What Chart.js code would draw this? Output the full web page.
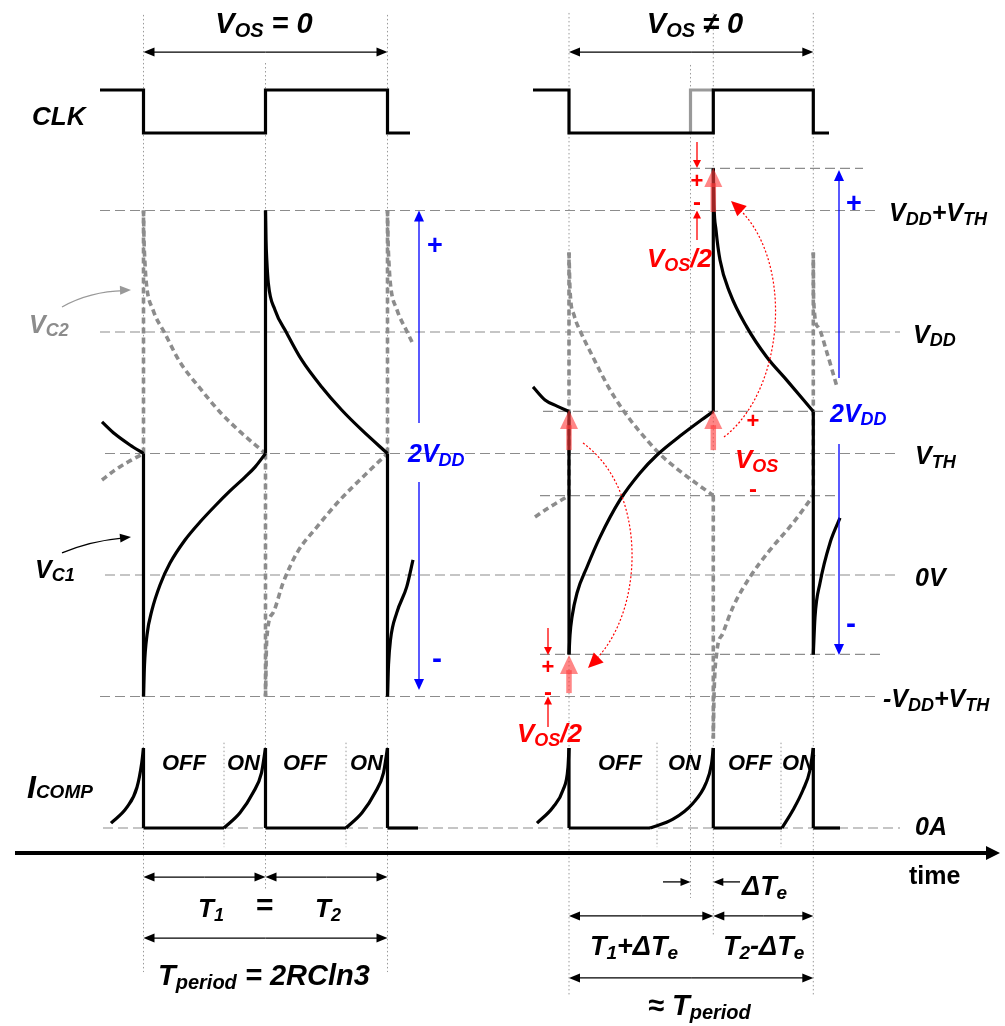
<!DOCTYPE html>
<html>
<head>
<meta charset="utf-8">
<script src="https://cdn.jsdelivr.net/npm/chart.js@4.4.1/dist/chart.umd.min.js"></script>
<style>
  html, body { margin: 0; padding: 0; background: #fff; }
  #wrap { width: 1005px; height: 1026px; }
</style>
</head>
<body>
<div id="wrap"><canvas id="diagram" width="1005" height="1026"></canvas></div>
<script>
// switching instants on the time axis (arbitrary time units)
const edgesLeft = [143.5, 265.5, 387.5];          // Vos = 0
const edgesRight = [569, 690.5, 713.3, 813.3];    // Vos != 0 (690.5 = ideal edge)

// CLK, 0 = low, 1 = high
const clkLeft = [[100, 1], [143.5, 1], [143.5, 0], [265.5, 0], [265.5, 1], [387.5, 1], [387.5, 0], [410, 0]];
const clkRight = [[533, 1], [569, 1], [569, 0], [713.3, 0], [713.3, 1], [813.3, 1], [813.3, 0], [829, 0]];
const clkIdeal = [[690.5, 0], [690.5, 1], [713.3, 1]];

// reference levels in units of VDD (VTH = VDD/2)
const levelLabels = ["V_{DD}+V_{TH}", "V_{DD}", "V_{TH}", "0V", "-V_{DD}+V_{TH}"];
const levelValues = [1.5, 1, 0.5, 0, -0.5];
const levelFrom = [100, 100, 105, 105, 100];
const levelTo = [880, 900, 900, 900, 880];
// levels shifted by Vos/2 (Vos != 0 case)
const offsetValues = [1.673, 0.673, 0.327, -0.327];
const offsetFrom = [690, 543, 540, 540];
const offsetTo = [863, 828, 835, 883];

// thin dotted time guides: [time, top, bottom] in VDD units
const guides = [
  [143.5, 2.305, -1.634], [265.5, 2.107, -1.296], [387.5, 2.305, -1.634],
  [569, 2.313, -1.728], [690.5, 2.099, -1.329], [713.3, 2.313, -1.481], [813.3, 2.313, -1.728],
  [224, -0.69, -1.12], [346, -0.69, -1.12], [657, -0.69, -1.12], [781, -0.69, -1.12]
];

// VC1 / VC2 (units of VDD), one array per continuous piece, jumps join the pieces
const vc1Left = [
  [[102, 0.630], [115, 0.580], [130, 0.535], [143.5, 0.5]],
  [[143.5, -0.5], [144.5, -0.370], [147, -0.247], [152, -0.144], [160, -0.041], [170, 0.049], [185, 0.144],
   [200, 0.218], [215, 0.284], [230, 0.346], [245, 0.403], [255, 0.444], [265.5, 0.5]],
  [[265.5, 1.5], [266, 1.38], [266.8, 1.296], [268.3, 1.202], [275, 1.091], [286.7, 0.996], [301.7, 0.885],
   [321.7, 0.774], [341.7, 0.679], [361.7, 0.597], [387.5, 0.5]],
  [[387.5, -0.5], [388.5, -0.370], [390.5, -0.267], [396.7, -0.156], [406.7, -0.049], [413, 0.062]]
];
const vc2Left = [
  [[102, 0.391], [115, 0.432], [128, 0.465], [143.5, 0.5]],
  [[143.5, 1.5], [144, 1.38], [144.8, 1.296], [146.3, 1.202], [153, 1.091], [164.7, 0.996], [179.7, 0.878],
   [199.7, 0.770], [219.7, 0.672], [240, 0.590], [265.5, 0.5]],
  [[265.5, -0.5], [266.7, -0.267], [273, -0.156], [283, -0.033], [297, 0.091], [317, 0.198], [340, 0.309],
   [367, 0.420], [387.5, 0.5]],
  [[387.5, 1.5], [388, 1.38], [388.8, 1.296], [390.3, 1.202], [397, 1.091], [406, 1.010], [413, 0.950]]
];
const vc1Right = [
  [[533, 0.774], [545, 0.720], [557, 0.695], [569, 0.673]],
  [[569, -0.327], [570, -0.247], [572, -0.173], [577, -0.074], [587, 0.033], [600, 0.156], [620, 0.309],
   [640, 0.420], [657, 0.494], [680, 0.572], [700, 0.634], [713.3, 0.673]],
  [[713.3, 1.673], [714, 1.523], [716, 1.420], [720, 1.296], [730, 1.160], [746.7, 1.021], [766.7, 0.897],
   [786.7, 0.802], [813.3, 0.673]],
  [[813.3, -0.327], [815, -0.173], [820, -0.033], [830, 0.132], [840, 0.235]]
];
const vc2Right = [
  [[535, 0.239], [550, 0.280], [569, 0.327]],
  [[569, 1.327], [570, 1.173], [574, 1.070], [582, 0.988], [592, 0.905], [603, 0.815], [614, 0.735],
   [630, 0.640], [647, 0.555], [660, 0.497], [677, 0.437], [697, 0.375], [713.3, 0.327]],
  [[713.3, -0.673], [714, -0.5], [716.7, -0.321], [723, -0.239], [733, -0.132], [750, -0.008], [770, 0.103],
   [793, 0.214], [813.3, 0.327]],
  [[813.3, 1.327], [813.6, 1.132], [818, 1.021], [827, 0.914], [837, 0.774]]
];

// ICOMP, units of its peak value
const iLeft = [
  [[111, 0.06], [127, 0.26], [137, 0.51], [141.7, 0.81], [143.5, 1]],
  [[143.5, 0], [224, 0]],
  [[224, 0], [240, 0.19], [253, 0.44], [261.5, 0.69], [265.5, 1]],
  [[265.5, 0], [346, 0]],
  [[346, 0], [362, 0.19], [375, 0.44], [383.5, 0.69], [387.5, 1]],
  [[387.5, 0], [418, 0]]
];
const iRight = [
  [[537, 0.06], [553, 0.26], [563, 0.475], [568, 0.76], [569, 1]],
  [[569, 0], [650, 0]],
  [[650, 0], [673, 0.11], [693, 0.31], [706, 0.56], [711.5, 0.8], [713.3, 1]],
  [[713.3, 0], [782, 0]],
  [[782, 0], [793, 0.225], [803, 0.475], [810, 0.725], [813.3, 1]],
  [[813.3, 0], [840, 0]]
];
const iZeroFrom = 103, iZeroTo = 900;

const FONT = '"Liberation Sans", Arial, sans-serif';
const GRAY = "#8c8c8c";
const RED = "#ff0000";
const BLUE = "#0000ff";

const datasets = [];
function addLine(pts, opt) {
  datasets.push(Object.assign({
    data: pts.map(p => ({ x: p[0], y: p[1] })),
    showLine: true, pointRadius: 0, fill: false, tension: 0,
    borderWidth: 3.2, borderColor: "#000", borderCapStyle: "butt",
    yAxisID: "y", order: 5
  }, opt));
}
function addWave(segs, opt) {
  segs.forEach((s, i) => {
    addLine(s, Object.assign({}, opt, s.length > 2 ? { cubicInterpolationMode: "monotone" } : {}));
    if (i > 0) addLine([segs[i - 1][segs[i - 1].length - 1], s[0]], opt);
  });
}

// reference grid
const gridStyle = { borderWidth: 1.2, borderColor: GRAY, borderDash: [10, 5], order: 20 };
levelValues.forEach((v, i) => addLine([[levelFrom[i], v], [levelTo[i], v]], gridStyle));
offsetValues.forEach((v, i) => addLine([[offsetFrom[i], v], [offsetTo[i], v]], gridStyle));
addLine([[iZeroFrom, 0], [iZeroTo, 0]], Object.assign({}, gridStyle, { yAxisID: "yI" }));
guides.forEach(g => addLine([[g[0], g[1]], [g[0], g[2]]],
  { borderWidth: 1, borderColor: "#9a9a9a", borderDash: [1.5, 2.5], order: 19 }));

// waveforms
const vc2Style = { borderColor: GRAY, borderWidth: 3.6, borderDash: [6, 4], order: 10 };
addWave(vc2Left, vc2Style);
addWave(vc2Right, vc2Style);
addWave(vc1Left, {});
addWave(vc1Right, {});
addWave(iLeft, { yAxisID: "yI" });
addWave(iRight, { yAxisID: "yI" });
addLine(clkIdeal, { yAxisID: "yC", borderColor: "#999", order: 6 });
addLine(clkLeft, { yAxisID: "yC" });
addLine(clkRight, { yAxisID: "yC" });

// ---- drawing helpers for the annotations ----
function rich(c, str, x, y, size, color, align, italic = true, subSize = Math.round(size * 0.7), subDy = size * 0.14) {
  const parts = str.split(/(_\{[^}]*\})/).filter(Boolean).map(s =>
    s.startsWith("_{") ? { t: s.slice(2, -1), sub: true } : { t: s, sub: false });
  const font = sz => (italic ? "italic " : "") + "bold " + sz + "px " + FONT;
  let w = 0;
  parts.forEach(p => { c.font = font(p.sub ? subSize : size); p.w = c.measureText(p.t).width; w += p.w; });
  let cx = align === "center" ? x - w / 2 : align === "right" ? x - w : x;
  c.fillStyle = color; c.textAlign = "left"; c.textBaseline = "alphabetic";
  parts.forEach(p => {
    c.font = font(p.sub ? subSize : size);
    c.fillText(p.t, cx, y + (p.sub ? subDy : 0));
    cx += p.w;
  });
}
function glyph(c, str, x, y, size, color) {
  c.font = "bold " + size + "px " + FONT;
  c.fillStyle = color; c.textAlign = "center"; c.textBaseline = "middle";
  c.fillText(str, x, y);
}
function head(c, x0, y0, x1, y1, len, half, color) {
  const a = Math.atan2(y1 - y0, x1 - x0), ca = Math.cos(a), sa = Math.sin(a);
  c.fillStyle = color;
  c.beginPath();
  c.moveTo(x1, y1);
  c.lineTo(x1 - len * ca + half * sa, y1 - len * sa - half * ca);
  c.lineTo(x1 - len * ca - half * sa, y1 - len * sa + half * ca);
  c.closePath();
  c.fill();
}
function arrow(c, x0, y0, x1, y1, color, w, len, half) {
  const d = Math.hypot(x1 - x0, y1 - y0), k = (d - len * 0.8) / d;
  c.strokeStyle = color; c.lineWidth = w; c.setLineDash([]);
  c.beginPath(); c.moveTo(x0, y0); c.lineTo(x0 + (x1 - x0) * k, y0 + (y1 - y0) * k); c.stroke();
  head(c, x0, y0, x1, y1, len, half, color);
}
function arrow2(c, x0, y0, x1, y1) {
  const mx = (x0 + x1) / 2, my = (y0 + y1) / 2;
  arrow(c, mx, my, x0, y0, "#000", 1.3, 11, 4.5);
  arrow(c, mx, my, x1, y1, "#000", 1.3, 11, 4.5);
}

const notes = {
  id: "notes",
  afterDatasetsDraw(chart) {
    const c = chart.ctx, sx = chart.scales.x, sy = chart.scales.y;
    const X = t => sx.getPixelForValue(t), Y = v => sy.getPixelForValue(v);
    c.save();

    // time axis
    arrow(c, X(15), Y(-1.144), X(1000), Y(-1.144), "#000", 3.8, 14, 7);

    // period arrows
    arrow2(c, X(edgesLeft[0]), Y(2.152), X(edgesLeft[2]), Y(2.152));
    arrow2(c, X(edgesRight[0]), Y(2.152), X(edgesRight[3]), Y(2.152));
    arrow2(c, X(edgesLeft[0]), Y(-1.243), X(edgesLeft[1]), Y(-1.243));
    arrow2(c, X(edgesLeft[1]), Y(-1.243), X(edgesLeft[2]), Y(-1.243));
    arrow2(c, X(edgesLeft[0]), Y(-1.494), X(edgesLeft[2]), Y(-1.494));
    arrow2(c, X(edgesRight[0]), Y(-1.403), X(edgesRight[2]), Y(-1.403));
    arrow2(c, X(edgesRight[2]), Y(-1.403), X(edgesRight[3]), Y(-1.403));
    arrow2(c, X(edgesRight[0]), Y(-1.658), X(edgesRight[3]), Y(-1.658));
    arrow(c, X(663), Y(-1.263), X(edgesRight[1]), Y(-1.263), "#000", 1.3, 10, 4);
    arrow(c, X(740), Y(-1.263), X(edgesRight[2]), Y(-1.263), "#000", 1.3, 10, 4);

    // 2VDD spans (blue)
    arrow(c, X(419), Y(0.626), X(419), Y(1.5), BLUE, 1.3, 11, 5);
    arrow(c, X(419), Y(0.383), X(419), Y(-0.473), BLUE, 1.3, 11, 5);
    arrow(c, X(839), Y(0.811), X(839), Y(1.667), BLUE, 1.3, 11, 5);
    arrow(c, X(839), Y(0.539), X(839), Y(-0.329), BLUE, 1.3, 11, 5);
    rich(c, "2V_{DD}", X(408), Y(0.465), 25, BLUE, "left");
    rich(c, "2V_{DD}", X(830), Y(0.630), 25, BLUE, "left");
    glyph(c, "+", X(435), Y(1.350), 27, BLUE);
    glyph(c, "-", X(437), Y(-0.350), 30, BLUE);
    glyph(c, "+", X(854), Y(1.523), 27, BLUE);
    glyph(c, "-", X(851), Y(-0.206), 30, BLUE);

    // label pointers
    c.lineWidth = 1.3; c.setLineDash([]);
    c.strokeStyle = "#999";
    c.beginPath(); c.moveTo(X(62), Y(1.103)); c.quadraticCurveTo(X(90), Y(1.167), X(124), Y(1.170)); c.stroke();
    head(c, X(90), Y(1.167), X(131), Y(1.173), 11, 4.5, "#999");
    c.strokeStyle = "#000";
    c.beginPath(); c.moveTo(X(62), Y(0.091)); c.quadraticCurveTo(X(90), Y(0.140), X(124), Y(0.153)); c.stroke();
    head(c, X(90), Y(0.140), X(131), Y(0.156), 11, 4.5, "#000");

    // Vos shifts (red)
    const pink = "rgba(255,60,60,0.62)";
    arrow(c, X(569), Y(0.514), X(569), Y(0.679), pink, 5.5, 19, 9);
    arrow(c, X(713.3), Y(0.514), X(713.3), Y(0.679), pink, 5.5, 19, 9);
    arrow(c, X(569), Y(-0.486), X(569), Y(-0.329), pink, 5.5, 19, 9);
    arrow(c, X(713.3), Y(1.494), X(713.3), Y(1.675), pink, 5.5, 19, 9);
    arrow(c, X(697), Y(1.782), X(697), Y(1.675), RED, 1.3, 8, 4);
    arrow(c, X(697), Y(1.379), X(697), Y(1.5), RED, 1.3, 8, 4);
    arrow(c, X(548), Y(-0.218), X(548), Y(-0.329), RED, 1.3, 8, 4);
    arrow(c, X(548), Y(-0.626), X(548), Y(-0.5), RED, 1.3, 8, 4);
    glyph(c, "+", X(697), Y(1.617), 22, RED);
    glyph(c, "-", X(697), Y(1.531), 24, RED);
    glyph(c, "+", X(548), Y(-0.383), 22, RED);
    glyph(c, "-", X(548), Y(-0.486), 24, RED);
    glyph(c, "+", X(753), Y(0.630), 22, RED);
    glyph(c, "-", X(753), Y(0.350), 24, RED);
    rich(c, "V_{OS}/2", X(647), Y(1.267), 26, RED, "left");
    rich(c, "V_{OS}/2", X(517), Y(-0.687), 26, RED, "left");
    rich(c, "V_{OS}", X(735), Y(0.440), 26, RED, "left");

    // dotted curved arrows
    c.strokeStyle = RED; c.lineWidth = 1.2; c.setLineDash([2, 2]);
    c.beginPath(); c.moveTo(X(583), Y(0.543));
    c.bezierCurveTo(X(648), Y(0.350), X(645), Y(-0.152), X(594), Y(-0.355)); c.stroke();
    c.beginPath(); c.moveTo(X(724), Y(0.568));
    c.bezierCurveTo(X(785), Y(0.761), X(795), Y(1.296), X(737), Y(1.515)); c.stroke();
    c.setLineDash([]);
    head(c, X(645), Y(-0.152), X(588), Y(-0.383), 15, 7, RED);
    head(c, X(795), Y(1.296), X(731), Y(1.539), 15, 7, RED);

    // left labels
    rich(c, "CLK", X(32), Y(1.852), 26, "#000", "left");
    rich(c, "V_{C2}", X(29), Y(0.996), 25, GRAY, "left");
    rich(c, "V_{C1}", X(35), Y(-0.012), 25, "#000", "left");
    rich(c, "I_{COMP}", X(27), Y(-0.918), 32, "#000", "left", true, 19, 0);

    // right labels
    const labelX = [889, 913, 915, 915, 883];
    levelLabels.forEach((s, i) => rich(c, s, X(labelX[i]), Y(levelValues[i] - 0.045), 25, "#000", "left"));
    rich(c, "0A", X(915), Y(-1.070), 25, "#000", "left");
    rich(c, "time", X(909), Y(-1.272), 25, "#000", "left", false);

    // switch states
    [["OFF", 162], ["ON", 227], ["OFF", 283], ["ON", 350], ["OFF", 598], ["ON", 668], ["OFF", 728], ["ON", 782]]
      .forEach(p => rich(c, p[0], X(p[1]), Y(-0.802), 22, "#000", "left"));

    // titles and timing
    rich(c, "V_{OS} = 0", X(264), Y(2.230), 29, "#000", "center");
    rich(c, "V_{OS} \u2260 0", X(695), Y(2.230), 29, "#000", "center");
    rich(c, "T_{1}", X(198), Y(-1.407), 26, "#000", "left");
    rich(c, "=", X(256), Y(-1.400), 30, "#000", "left", false);
    rich(c, "T_{2}", X(315), Y(-1.407), 26, "#000", "left");
    rich(c, "T_{period} = 2RCln3", X(158), Y(-1.687), 29, "#000", "left");
    rich(c, "\u0394T_{e}", X(742), Y(-1.317), 27, "#000", "left");
    rich(c, "T_{1}+\u0394T_{e}", X(590), Y(-1.564), 27, "#000", "left");
    rich(c, "T_{2}-\u0394T_{e}", X(723), Y(-1.564), 27, "#000", "left");
    rich(c, "\u2248 T_{period}", X(648), Y(-1.811), 29, "#000", "left");

    c.restore();
  }
};

new Chart(document.getElementById("diagram"), {
  type: "scatter",
  data: { datasets: datasets },
  options: {
    responsive: false,
    animation: false,
    events: [],
    layout: { padding: 0 },
    plugins: { legend: { display: false }, tooltip: { enabled: false } },
    scales: {
      x: { type: "linear", min: 0, max: 1005, display: false },
      y: { type: "linear", min: -1.856, max: 2.3663, display: false },
      yI: { type: "linear", min: -2.475, max: 10.35, display: false },
      yC: { type: "linear", min: -20.767, max: 3.093, display: false }
    }
  },
  plugins: [notes]
});
</script>
</body>
</html>
